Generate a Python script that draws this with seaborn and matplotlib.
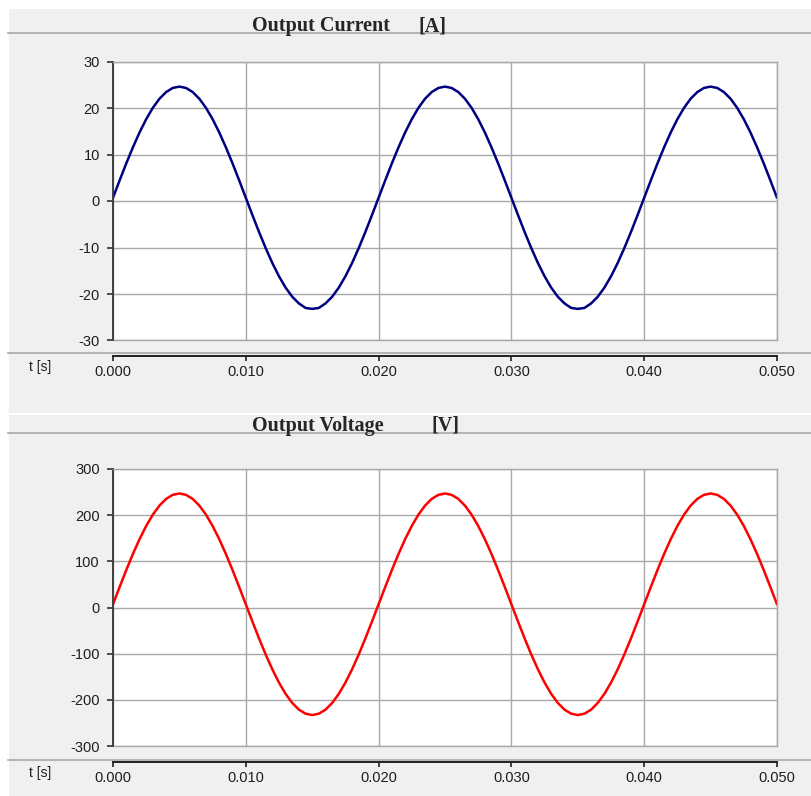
import numpy as np
import pandas as pd
import matplotlib
matplotlib.use("Agg")
import matplotlib.pyplot as plt
from matplotlib.patches import Rectangle
from matplotlib.lines import Line2D
from matplotlib.ticker import FormatStrFormatter, MultipleLocator
import seaborn as sns

# Sampled waveforms, 0.5 ms step from 0 to 50 ms
time_s = [round(i * 0.0005, 4) for i in range(101)]

current_a = [
    0.7, 4.44, 8.09, 11.55, 14.75, 17.60, 20.04, 22.00, 23.43, 24.31,
    24.6, 24.31, 23.43, 22.00, 20.04, 17.60, 14.75, 11.55, 8.09, 4.44,
    0.7, -3.04, -6.69, -10.15, -13.35, -16.20, -18.64, -20.60, -22.03, -23.0,
    -23.2, -23.0, -22.03, -20.60, -18.64, -16.20, -13.35, -10.15, -6.69, -3.04,
    0.7, 4.44, 8.09, 11.55, 14.75, 17.60, 20.04, 22.00, 23.43, 24.31,
    24.6, 24.31, 23.43, 22.00, 20.04, 17.60, 14.75, 11.55, 8.09, 4.44,
    0.7, -3.04, -6.69, -10.15, -13.35, -16.20, -18.64, -20.60, -22.03, -23.0,
    -23.2, -23.0, -22.03, -20.60, -18.64, -16.20, -13.35, -10.15, -6.69, -3.04,
    0.7, 4.44, 8.09, 11.55, 14.75, 17.60, 20.04, 22.00, 23.43, 24.31,
    24.6, 24.31, 23.43, 22.00, 20.04, 17.60, 14.75, 11.55, 8.09, 4.44,
    0.7,
]

voltage_v = [
    7.0, 44.5, 81.2, 116.0, 148.1, 176.7, 201.2, 220.8, 235.3, 244.0,
    247.0, 244.0, 235.3, 220.8, 201.2, 176.7, 148.1, 116.0, 81.2, 44.5,
    7.0, -30.5, -67.2, -102.0, -134.1, -162.7, -187.2, -206.8, -221.3, -230.0,
    -233.0, -230.0, -221.3, -206.8, -187.2, -162.7, -134.1, -102.0, -67.2, -30.5,
    7.0, 44.5, 81.2, 116.0, 148.1, 176.7, 201.2, 220.8, 235.3, 244.0,
    247.0, 244.0, 235.3, 220.8, 201.2, 176.7, 148.1, 116.0, 81.2, 44.5,
    7.0, -30.5, -67.2, -102.0, -134.1, -162.7, -187.2, -206.8, -221.3, -230.0,
    -233.0, -230.0, -221.3, -206.8, -187.2, -162.7, -134.1, -102.0, -67.2, -30.5,
    7.0, 44.5, 81.2, 116.0, 148.1, 176.7, 201.2, 220.8, 235.3, 244.0,
    247.0, 244.0, 235.3, 220.8, 201.2, 176.7, 148.1, 116.0, 81.2, 44.5,
    7.0,
]

x_ticks = [0.000, 0.010, 0.020, 0.030, 0.040, 0.050]
current_ticks = [-30, -20, -10, 0, 10, 20, 30]
voltage_ticks = [-300, -200, -100, 0, 100, 200, 300]

df = pd.DataFrame({"t": time_s, "current": current_a, "voltage": voltage_v})

sns.set_style("white")
plt.rcParams["font.family"] = ["Liberation Sans", "DejaVu Sans"]
plt.rcParams["axes.unicode_minus"] = False

W, H = 812, 796
fig = plt.figure(figsize=(W / 100, H / 100), dpi=100, facecolor="white")

PANEL = "#f0f0f0"
SEP = "#b4b4b4"
GRID = "#a8a8a8"
TXT = "#1e1e1e"


def fx(px):
    return px / W


def fy(py):
    return 1 - py / H


# Gray panel backgrounds
fig.add_artist(Rectangle((fx(9), fy(413)), 1, fy(9) - fy(413),
                         transform=fig.transFigure, facecolor=PANEL,
                         edgecolor="none", zorder=-10))
fig.add_artist(Rectangle((fx(9), 0), 1, fy(415),
                         transform=fig.transFigure, facecolor=PANEL,
                         edgecolor="none", zorder=-10))

# Separator lines (header and footer of each panel)
for py in (33, 353, 432.5, 759.5):
    fig.add_artist(Line2D([fx(8), 1], [fy(py), fy(py)], transform=fig.transFigure,
                          color=SEP, lw=1.5, zorder=-5))

panels = [
    dict(col="current", color="#000080", ticks=current_ticks,
         rect=[fx(113), fy(340.5), fx(664), 279 / H], outward=11.2,
         title=("Output Current", "[A]"), tx=(252, 419), ty=31, tlab=367),
    dict(col="voltage", color="#ff0000", ticks=voltage_ticks,
         rect=[fx(113), fy(746), fx(664), 277 / H], outward=11.5,
         title=("Output Voltage", "[V]"), tx=(252, 432), ty=430.5, tlab=773),
]

for p in panels:
    ax = fig.add_axes(p["rect"])
    ax.set_facecolor("white")
    sns.lineplot(data=df, x="t", y=p["col"], ax=ax, color=p["color"],
                 linewidth=1.8, legend=False)
    ax.set_xlim(x_ticks[0], x_ticks[-1])
    ax.set_ylim(p["ticks"][0], p["ticks"][-1])
    ax.set_xticks(x_ticks)
    ax.set_yticks(p["ticks"])
    ax.xaxis.set_major_formatter(FormatStrFormatter("%.3f"))
    ax.grid(True, color=GRID, lw=1.0)
    ax.set_axisbelow(True)
    ax.set_xlabel("")
    ax.set_ylabel("")

    for side in ("top", "right"):
        ax.spines[side].set_visible(True)
        ax.spines[side].set_color(GRID)
        ax.spines[side].set_linewidth(1.0)
    ax.spines["left"].set_color("#404040")
    ax.spines["left"].set_linewidth(1.4)
    ax.spines["bottom"].set_position(("outward", p["outward"]))
    ax.spines["bottom"].set_color("#202020")
    ax.spines["bottom"].set_linewidth(1.4)
    # lower edge of the plotting box
    ax.add_line(Line2D([0, 1], [0, 0], transform=ax.transAxes, color=GRID,
                       lw=1.0, clip_on=False))

    ax.tick_params(axis="y", direction="out", length=4.5, width=1.2,
                   color="#303030", pad=5, labelsize=10.5, labelcolor=TXT, left=True)
    ax.tick_params(axis="x", direction="out", length=3.5, width=1.2,
                   color="#202020", pad=3, labelsize=10.5, labelcolor=TXT, bottom=True)

    name, unit = p["title"]
    fig.text(fx(p["tx"][0]), fy(p["ty"]), name, ha="left", va="baseline",
             fontsize=14.5, fontweight="bold", family=["Liberation Serif", "DejaVu Serif"])
    fig.text(fx(p["tx"][1]), fy(p["ty"]), unit, ha="left", va="baseline",
             fontsize=14.5, fontweight="bold", family=["Liberation Serif", "DejaVu Serif"])
    fig.text(fx(40), fy(p["tlab"]), "t [s]", ha="center", va="center",
             fontsize=10, color=TXT)

fig.savefig("out.png", dpi=100, facecolor="white")
